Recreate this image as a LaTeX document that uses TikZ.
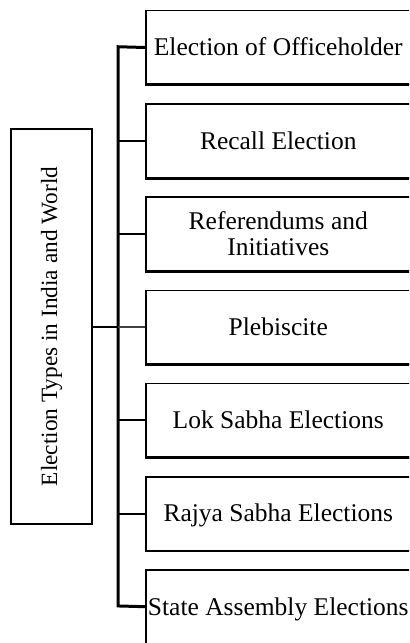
\documentclass[tikz,border=0pt]{standalone}
\usepackage{fontspec}
\setmainfont{Liberation Serif}
\begin{document}
\begin{tikzpicture}[x=1bp,y=-1bp,
  kindbox/.style={draw, line width=1.5bp, minimum width=265bp, minimum height=73.5bp,
    inner sep=0pt, anchor=north west, align=center,
    font=\fontsize{25.5bp}{25.6bp}\selectfont, text height=16.9bp, text depth=0pt},
  tworow/.style={text height=42.5bp},
  rootbox/.style={draw, line width=1.6bp, rotate=90, minimum width=395bp, minimum height=81.5bp,
    inner sep=0pt, font=\fontsize{23.3bp}{26bp}\selectfont},
  bus/.style={line width=3bp},
  link/.style={line width=2bp},
  baseedge/.style={line width=2.8bp}
]
\useasboundingbox (0,0) rectangle (409,643);
\clip (0,0) rectangle (409,643);

% root box, text running bottom to top
\node[rootbox] (root) at (51.5,326.5) {Election Types in India and World};

% the seven kinds of election, stacked down the right side
\node[kindbox] (b1) at (145,10.0)  {Election of Officeholder};
\node[kindbox] (b2) at (145,103.2) {Recall Election};
\node[kindbox, tworow] (b3) at (145,196.4) {Referendums and\\Initiatives};
\node[kindbox] (b4) at (145,289.6) {Plebiscite};
\node[kindbox] (b5) at (145,382.8) {Lok Sabha Elections};
\node[kindbox] (b6) at (145,476.0) {Rajya Sabha Elections};
\node[kindbox] (b7) at (145,569.2) {State Assembly Elections};

% heavier lower edges of the boxes
\foreach \b in {b1,b2,b3,b4,b5,b6,b7}
  \draw[baseedge] (\b.south west) -- (\b.south east);

% vertical bus joining the boxes
\coordinate (bt) at (118,46.75);
\coordinate (bb) at (118,605.95);
\draw[bus, line join=miter] (b1.west) -- (bt) -- (bb) -- (b7.west);

% branches from the bus
\foreach \b in {b2,b3,b5,b6}
  \draw[link] (\b.west) -- (\b.west -| bt);
\draw[line width=1.3bp, black!75] (b4.west) -- (b4.west -| bt);
\draw[link] (root.south) -- (root.south -| bt);
\end{tikzpicture}
\end{document}
